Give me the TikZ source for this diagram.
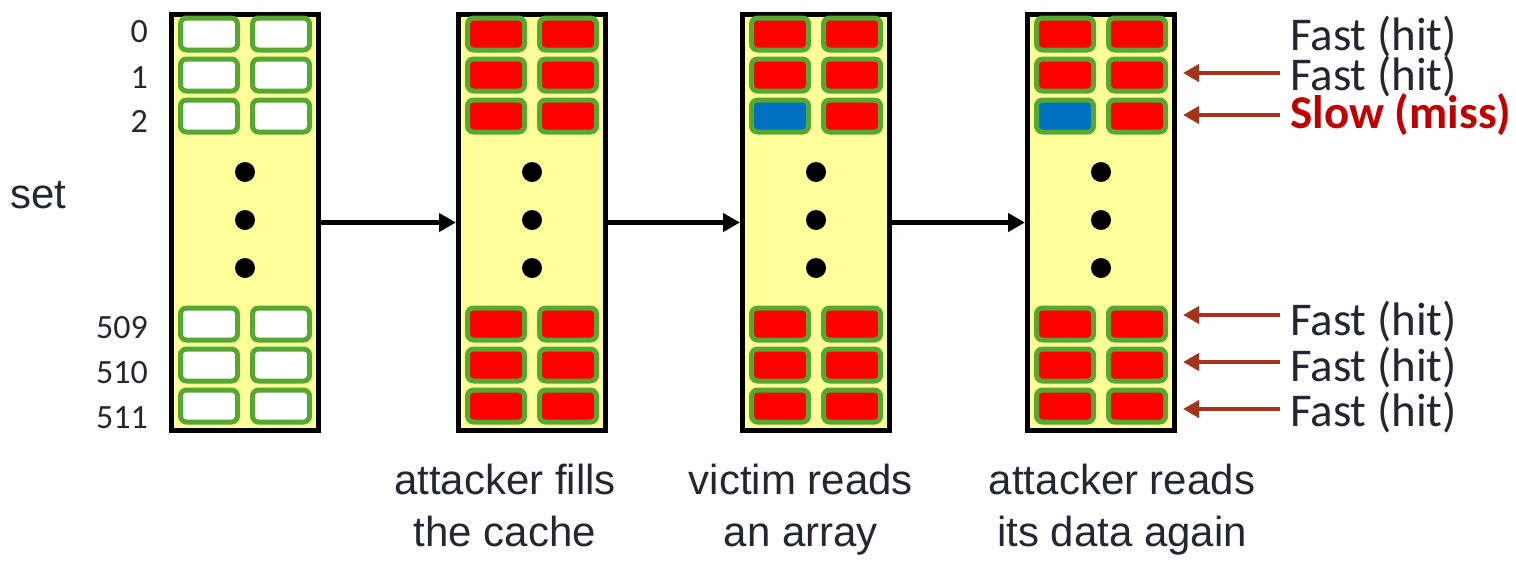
\documentclass[tikz,border=0pt]{standalone}
\usepackage{fontspec}
\setmainfont{Liberation Sans}
\newfontfamily\calib{Carlito}
\usetikzlibrary{arrows.meta}
\definecolor{cyel}{HTML}{FFFF99}
\definecolor{cgrn}{HTML}{56A832}
\definecolor{cred}{HTML}{FF0000}
\definecolor{cblu}{HTML}{0070C0}
\definecolor{ctxt}{HTML}{262631}
\definecolor{cslow}{HTML}{C00000}
\definecolor{carr}{HTML}{A3341C}
\begin{document}
\begin{tikzpicture}[x=1pt,y=-1pt,
 cachebox/.style={draw=black, line width=5pt, fill=cyel, minimum width=147pt, minimum height=416pt, inner sep=0pt},
 cell/.style={draw=cgrn, line width=5pt, rounded corners=6pt, minimum width=57pt, minimum height=32pt, inner sep=0pt},
 empty/.style={cell, fill=white},
 full/.style={cell, fill=cred},
 victim/.style={cell, fill=cblu},
 dot/.style={circle, fill=black, minimum size=20pt, inner sep=0pt},
 flow/.style={line width=5pt, -{Triangle[length=17pt,width=18pt]}},
 probe/.style={draw=carr, line width=4pt, -{Triangle[length=16pt,width=17pt]}},
 setnum/.style={font=\calib\fontsize{34}{34}\selectfont, text=ctxt, anchor=base east, inner sep=0pt},
 result/.style={font=\calib\fontsize{47}{47}\selectfont, text=ctxt, anchor=base west, inner sep=0pt},
 slowres/.style={font=\calib\bfseries\fontsize{47}{47}\selectfont, text=cslow, anchor=base west, inner sep=0pt},
 caption/.style={font=\fontsize{42}{52}\selectfont, text=ctxt, align=center, anchor=north, inner sep=0pt}
]
\useasboundingbox (0,0) rectangle (1516,560);

% cache boxes
\foreach \b/\bx in {1/245,2/532,3/816,4/1101}{
  \node[cachebox] (box\b) at (\bx,222.5) {};
  \foreach \r/\cy in {0/34,1/75,2/116,509/324,510/365,511/406}{
    \foreach \c/\dx in {1/-36,2/36}{
      \ifnum\b=1 \def\k{empty}\else
        \ifnum\b>2
          \ifnum\r=2 \ifnum\c=1 \def\k{victim}\else\def\k{full}\fi
          \else\def\k{full}\fi
        \else\def\k{full}\fi
      \fi
      \node[\k] (c\b-\r-\c) at (\bx+\dx,\cy) {};
    }
  }
  \foreach \i/\dy in {1/172,2/220,3/268}{
    \node[dot] (d\b-\i) at (\bx,\dy) {};
  }
}

% flow arrows
\draw[flow] (box1.east) -- (box2.west);
\draw[flow] (box2.east) -- (box3.west);
\draw[flow] (box3.east) -- (box4.west);

% set numbers
\node[setnum] (n0) at (148,42) {0};
\node[setnum] (n1) at (148,88) {1};
\node[setnum] (n2) at (148,132) {2};
\node[setnum] (n509) at (148,338) {509};
\node[setnum] (n510) at (148,383) {510};
\node[setnum] (n511) at (148,428) {511};
\node[font=\fontsize{42}{42}\selectfont, text=ctxt, anchor=base west, inner sep=0pt] (setlbl) at (10,208) {set};

% results
\node[result] (r0) at (1290,50) {Fast (hit)};
\node[result] (r1) at (1290,90) {Fast (hit)};
\node[slowres] (r2) at (1290,128) {Slow (miss)};
\node[result] (r509) at (1290,335) {Fast (hit)};
\node[result] (r510) at (1290,381) {Fast (hit)};
\node[result] (r511) at (1290,426) {Fast (hit)};

% probe arrows
\foreach \n/\ay in {1/73,2/115,509/315,510/362,511/409}{
  \coordinate (ps\n) at (1280,\ay);
  \coordinate (pt\n) at (1183,\ay);
  \draw[probe] (ps\n) -- (pt\n);
}

% captions
\node[caption] (cap2) at (505,464) {attacker fills\\the cache};
\node[caption] (cap3) at (801,464) {victim reads\\an array};
\node[caption] (cap4) at (1122,464) {attacker reads\\its data again};
\end{tikzpicture}
\end{document}
